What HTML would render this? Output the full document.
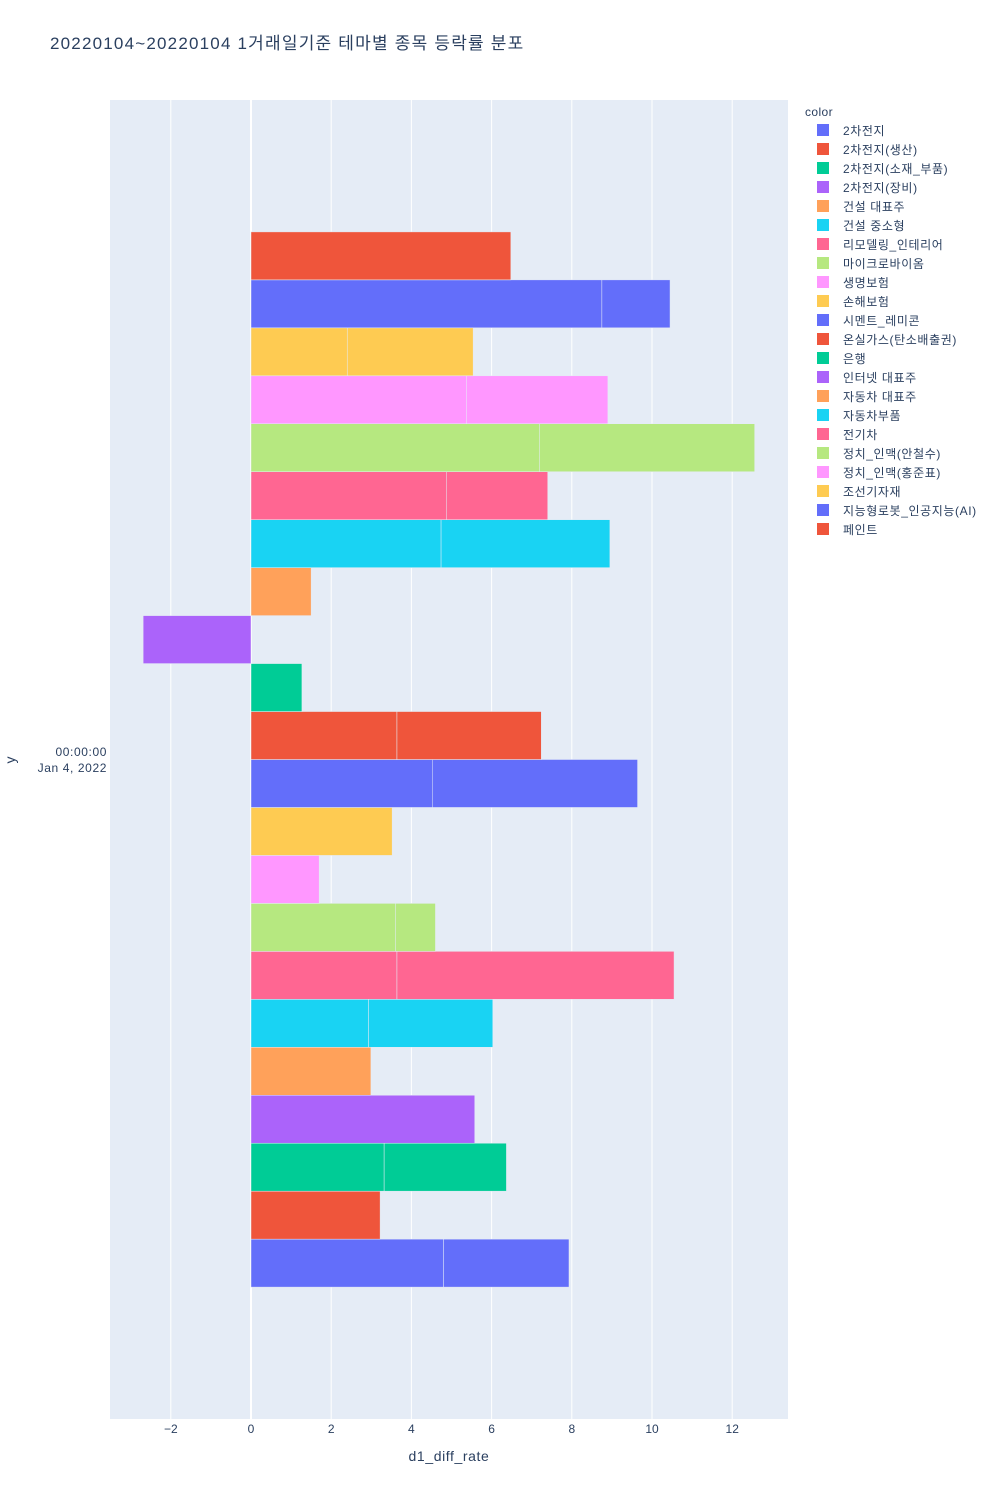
<!DOCTYPE html>
<html><head><meta charset="utf-8">
<style>
body{margin:0;background:#fff;font-family:"Liberation Sans","Noto Sans CJK KR",sans-serif;}
svg text{font-family:"Liberation Sans","Noto Sans CJK KR",sans-serif;fill:#2a3f5f;}
</style></head>
<body>
<svg id="chart" width="1000" height="1500" xmlns="http://www.w3.org/2000/svg"></svg>
<script>
const categories=["2차전지","2차전지(생산)","2차전지(소재_부품)","2차전지(장비)","건설 대표주","건설 중소형","리모델링_인테리어","마이크로바이옴","생명보험","손해보험","시멘트_레미콘","온실가스(탄소배출권)","은행","인터넷 대표주","자동차 대표주","자동차부품","전기차","정치_인맥(안철수)","정치_인맥(홍준표)","조선기자재","지능형로봇_인공지능(AI)","페인트"];
const segment1=[4.8,3.22,3.32,5.58,2.99,2.93,3.64,3.6,1.7,3.52,4.52,3.64,1.27,-2.69,1.5,4.74,4.87,7.2,5.37,2.4,8.75,6.48];
const segment2=[3.13,0,3.05,0,0,3.1,6.91,1.0,0,0,5.12,3.6,0,0,0,4.21,2.53,5.36,3.53,3.14,1.7,0];
const xTicks=[-2,0,2,4,6,8,10,12];
const xTickLabels=["−2","0","2","4","6","8","10","12"];
const colors=["#636efa","#EF553B","#00cc96","#ab63fa","#FFA15A","#19d3f3","#FF6692","#B6E880","#FF97FF","#FECB52"];
const NS="http://www.w3.org/2000/svg";
const svg=document.getElementById('chart');
const L=110,R=788,T=100,B=1419;
function xs(v){return 251+v*40.1;}
function mk(tag,attrs,parent){const e=document.createElementNS(NS,tag);for(const k in attrs)e.setAttribute(k,attrs[k]);(parent||svg).appendChild(e);return e;}
let t=mk('text',{x:50,y:49,'font-size':17,'letter-spacing':1.2});t.textContent="20220104~20220104 1거래일기준 테마별 종목 등락률 분포";


let bg=mk('rect',{x:L,y:T,width:R-L,height:B-T,fill:'#E5ECF6'});


xTicks.forEach((v,i)=>{
  let g=mk('line',{x1:xs(v),x2:xs(v),y1:T,y2:B,stroke:'#fff','stroke-width':v===0?2:1});
  
  
  let tl=mk('text',{x:xs(v),y:1433,'font-size':12,'text-anchor':'middle'});tl.textContent=xTickLabels[i];
  
  
});
const n=categories.length, band=(B-T)*0.8/n, top0=T+(B-T)*0.1;
categories.forEach((c,i)=>{
  const y=top0+(n-1-i)*band, col=colors[i%colors.length];
  let a=segment1[i], b=segment2[i];
  let r1=mk('rect',{x:Math.min(xs(0),xs(a)),y:y,width:Math.abs(xs(a)-xs(0)),height:band,fill:col,stroke:'#E5ECF6','stroke-width':0.5});
  
  
  if(b){let r2=mk('rect',{x:Math.min(xs(a),xs(a+b)),y:y,width:Math.abs(xs(a+b)-xs(a)),height:band,fill:col,stroke:'#E5ECF6','stroke-width':0.5});
  
  }
  let ly=130+i*19;
  let sw=mk('rect',{x:817,y:ly-6,width:12,height:12,fill:col});
  
  
  let lt=mk('text',{x:843,y:ly+5,'font-size':12,'letter-spacing':0.6});lt.textContent=c;
  
  
});
let lg=mk('text',{x:805,y:116,'font-size':12,'letter-spacing':0.4});lg.textContent="color";


let y1=mk('text',{x:107,y:756,'font-size':12,'text-anchor':'end','letter-spacing':0.6});y1.textContent="00:00:00";


let y2=mk('text',{x:107,y:772,'font-size':12,'text-anchor':'end','letter-spacing':0.6});y2.textContent="Jan 4, 2022";


let yt=mk('text',{x:15,y:760,'font-size':14,'text-anchor':'middle',transform:'rotate(-90 15 760)'});yt.textContent="y";


let xt=mk('text',{x:449,y:1461,'font-size':14,'text-anchor':'middle','letter-spacing':0.6});xt.textContent="d1_diff_rate";


</script>
</body></html>
